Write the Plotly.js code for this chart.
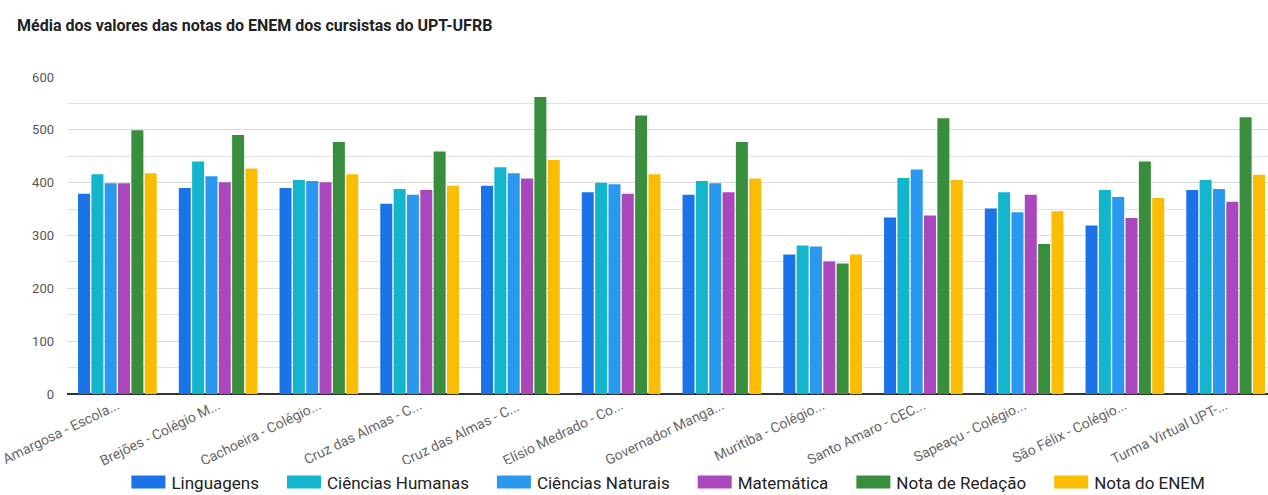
<!DOCTYPE html>
<html>
<head>
<meta charset="utf-8">
<script src="https://cdn.plot.ly/plotly-3.0.1.min.js"></script>
<style>
  html, body { margin: 0; padding: 0; overflow: hidden; background: #fff; }
  #chart { width: 1277px; height: 495px; }
</style>
</head>
<body>
<div id="chart"></div>
<script>
const categories = [
  "Amargosa - Escola...",
  "Brejões - Colégio M...",
  "Cachoeira - Colégio...",
  "Cruz das Almas - C...",
  "Cruz das Almas - C... ",
  "Elísio Medrado - Co...",
  "Governador Manga...",
  "Muritiba - Colégio...",
  "Santo Amaro - CEC...",
  "Sapeaçu - Colégio...",
  "São Félix - Colégio...",
  "Turma Virtual UPT-..."
];

const linguagens       = [379, 390, 390, 360, 394, 382, 377, 264, 334, 351, 319, 386];
const cienciasHumanas  = [416, 440, 405, 388, 429, 400, 403, 281, 409, 382, 386, 405];
const cienciasNaturais = [399, 412, 403, 377, 418, 397, 399, 279, 425, 344, 373, 388];
const matematica       = [399, 401, 401, 386, 408, 379, 382, 251, 338, 377, 333, 364];
const notaRedacao      = [499, 490, 477, 459, 562, 527, 477, 247, 522, 284, 440, 524];
const notaEnem         = [418, 427, 416, 394, 443, 416, 408, 264, 405, 346, 371, 415];

const seriesNames  = ["Linguagens", "Ciências Humanas", "Ciências Naturais", "Matemática", "Nota de Redação", "Nota do ENEM"];
const seriesValues = [linguagens, cienciasHumanas, cienciasNaturais, matematica, notaRedacao, notaEnem];
const seriesColors = ["#1a73e8", "#12b5cb", "#2b98f0", "#ab47bc", "#388e3c", "#fbbc04"];

const traces = seriesNames.map((name, i) => ({
  type: "bar",
  name: name,
  x: categories,
  y: seriesValues[i],
  marker: { color: seriesColors[i], line: { width: 0 } },
  hoverinfo: "x+y+name"
}));

const layout = {
  width: 1277,
  height: 495,
  autosize: false,
  margin: { l: 67, r: 1, t: 77, b: 101, autoexpand: false },
  paper_bgcolor: "#ffffff",
  plot_bgcolor: "#ffffff",
  font: { family: "Roboto, Arial, sans-serif", color: "#444" },
  title: {
    text: "<b>Média dos valores das notas do ENEM dos cursistas do UPT-UFRB</b>",
    font: { family: "Roboto, Arial, sans-serif", size: 16, color: "#222" },
    xref: "container", x: 17 / 1277, xanchor: "left",
    yref: "container", y: 1 - 25 / 495, yanchor: "middle"
  },
  barmode: "group",
  bargap: 0.206,
  bargroupgap: 0.1,
  xaxis: {
    type: "category",
    tickangle: -26,
    tickfont: { size: 14, color: "#666" },
    showgrid: false,
    ticks: "",
    showline: false,
    zeroline: false,
    automargin: false
  },
  yaxis: {
    range: [0, 600],
    dtick: 100,
    tick0: 0,
    tickfont: { size: 13, color: "#555" },
    gridcolor: "#dcdcdc",
    gridwidth: 1,
    minor: { dtick: 50, showgrid: true, gridcolor: "#e3e3e3", gridwidth: 1 },
    zeroline: true,
    zerolinecolor: "#333",
    zerolinewidth: 1.5,
    showline: false,
    ticklabelstandoff: 12,
    automargin: false
  },
  showlegend: true,
  legend: {
    orientation: "h",
    x: 0.49,
    xanchor: "center",
    y: -0.222,
    yanchor: "top",
    itemwidth: 53,
    font: { size: 17, color: "#222" },
    itemclick: false,
    traceorder: "normal"
  }
};

Plotly.newPlot("chart", traces, layout, { displayModeBar: false, staticPlot: true }).then(gd => {
  // wide rectangular legend keys placed just before each label, as in the reference
  gd.querySelectorAll(".legend .traces").forEach(g => {
    const t = g.querySelector("text.legendtext");
    const p = g.querySelector(".legendpoints path");
    if (!t || !p) return;
    const tx = parseFloat(t.getAttribute("x")) || 40;
    p.setAttribute("d", "M17,6.5H-17V-6.5H17Z");
    p.setAttribute("transform", "translate(" + (tx - 23) + ",0)");
  });
});
</script>
</body>
</html>
